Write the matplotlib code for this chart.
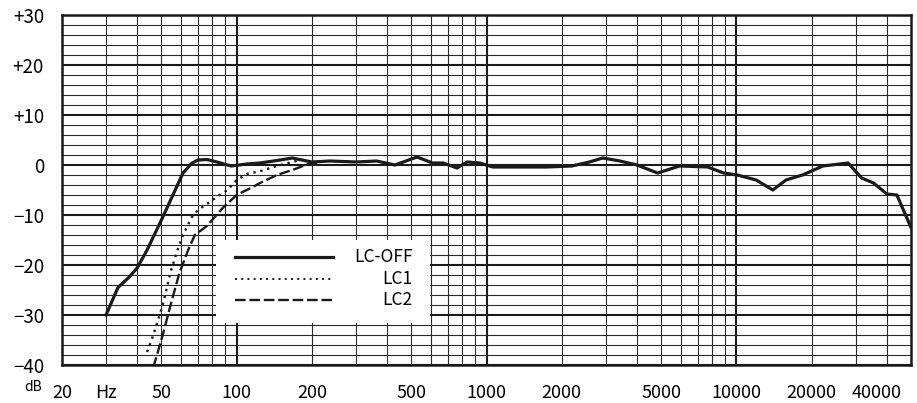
import numpy as np
import matplotlib
matplotlib.use('Agg')
import matplotlib.pyplot as plt
from matplotlib.ticker import LogLocator, MultipleLocator, NullFormatter
from matplotlib.patches import Rectangle
import matplotlib.transforms as mtransforms

plt.rcParams['font.family'] = ['Noto Sans CJK JP', 'DejaVu Sans']

# LC-OFF response (Hz, dB)
off_f = [30, 33.5, 37, 40, 43.8, 50, 55, 61, 66, 70, 76, 85, 95, 110, 124, 145,
         167, 200, 236, 302, 363, 430, 527, 608, 670, 762, 836, 940, 1060, 1740,
         2200, 2580, 2920, 3420, 4000, 4840, 5930, 7670, 8900, 10090, 12000,
         14000, 15800, 18400, 22200, 28000, 31700, 35400, 40000, 43900, 50000]
off_db = [-30, -24.5, -22.5, -20.6, -17, -11, -6.5, -1.6, 0.3, 1.0, 1.1, 0.5, -0.2,
          0.2, 0.4, 0.9, 1.4, 0.6, 0.8, 0.6, 0.8, 0, 1.6, 0.4, 0.4, -0.6, 0.6, 0.4,
          -0.4, -0.4, -0.2, 0.6, 1.4, 0.8, 0, -1.6, -0.2, -0.4, -1.6, -2, -3, -5,
          -3, -2, -0.2, 0.4, -2.6, -3.6, -5.8, -6, -12.5]

# LC1
lc1_f = [43.8, 46.4, 50.6, 54.4, 58, 61, 66, 70, 76, 85.5, 92, 100, 110, 125, 145, 167, 180]
lc1_db = [-37.4, -34, -28, -21.4, -17, -14, -10.5, -9, -7.8, -6, -5, -3, -1.8, -1.2, -0.2, 0.6, 1.0]

# LC2
lc2_f = [46.4, 50.6, 54.4, 59, 64, 68, 76, 88, 100, 116, 124, 145, 167, 196, 210]
lc2_db = [-40.5, -34, -28, -21.6, -17, -14, -12.2, -8.6, -6, -4.4, -3.6, -2, -1, 0.3, 0.5]

y_ticks = [30, 20, 10, 0, -10, -20, -30, -40]
y_labels = ['+30', '+20', '+10', '0', '\u221210', '\u221220', '\u221230', '\u221240']
x_label_pos = [20, 30, 50, 100, 200, 500, 1000, 2000, 5000, 10000, 20000, 40000]
x_labels = ['20', 'Hz', '50', '100', '200', '500', '1000', '2000', '5000', '10000', '20000', '40000']

fig = plt.figure(figsize=(9.17, 4.03), dpi=100)
fig.subplots_adjust(left=62/917, right=911/917, top=1-15/403, bottom=1-365/403)
ax = fig.add_subplot(111)

ax.set_xscale('log')
ax.set_xlim(20, 50000)
ax.set_ylim(-40, 30)

ax.xaxis.set_major_locator(LogLocator(base=10, numticks=10))
ax.xaxis.set_minor_locator(LogLocator(base=10, subs=np.arange(2, 10), numticks=20))
ax.xaxis.set_major_formatter(NullFormatter())
ax.xaxis.set_minor_formatter(NullFormatter())
ax.set_yticks(y_ticks, y_labels)
ax.yaxis.set_minor_locator(MultipleLocator(2))

ax.grid(which='major', color='#1a1a1a', lw=1.5)
ax.grid(which='minor', color='#2a2a2a', lw=0.8)
ax.set_axisbelow(True)
ax.tick_params(which='both', length=0)
ax.tick_params(axis='y', pad=13, labelsize=13.5)
for s in ax.spines.values():
    s.set_linewidth(1.8)
    s.set_color('#1a1a1a')

ax.plot(off_f, off_db, color='#1a1a1a', lw=2.3, solid_joinstyle='round', zorder=5)
ax.plot(lc1_f, lc1_db, color='#1a1a1a', lw=1.7, linestyle=(0, (1, 2)), zorder=4)
ax.plot(lc2_f, lc2_db, color='#1a1a1a', lw=1.7, linestyle=(0, (4.5, 1.6)), zorder=4)

# x labels
for xp, lab in zip(x_label_pos, x_labels):
    tr = ax.get_xaxis_transform()
    if lab == '40000':
        tr = tr + mtransforms.ScaledTranslation(-10/100, 0, fig.dpi_scale_trans)
    ax.text(xp, -0.08, lab, transform=tr, ha='center', va='center', fontsize=13)
fig.text(33/917, 1-387/403, 'dB', ha='center', va='center', fontsize=10)

# legend box
ax.add_patch(Rectangle((0.181, 0.12), 0.252, 0.237, transform=ax.transAxes,
                       facecolor='white', edgecolor='none', zorder=3))
leg_y = [0.309, 0.246, 0.186]
leg_names = ['LC-OFF', 'LC1', 'LC2']
leg_styles = [('-', 2.3), ((0, (1, 2.2)), 1.4), ((0, (4.5, 1.6)), 1.7)]
for yy, name, (ls, lw) in zip(leg_y, leg_names, leg_styles):
    ax.plot([0.204, 0.319], [yy, yy], transform=ax.transAxes, color='#1a1a1a',
            lw=lw, linestyle=ls, zorder=4)
    ax.text(0.413, yy, name, transform=ax.transAxes, ha='right', va='center',
            fontsize=12.5, zorder=4)

fig.savefig('out.png', dpi=100)
